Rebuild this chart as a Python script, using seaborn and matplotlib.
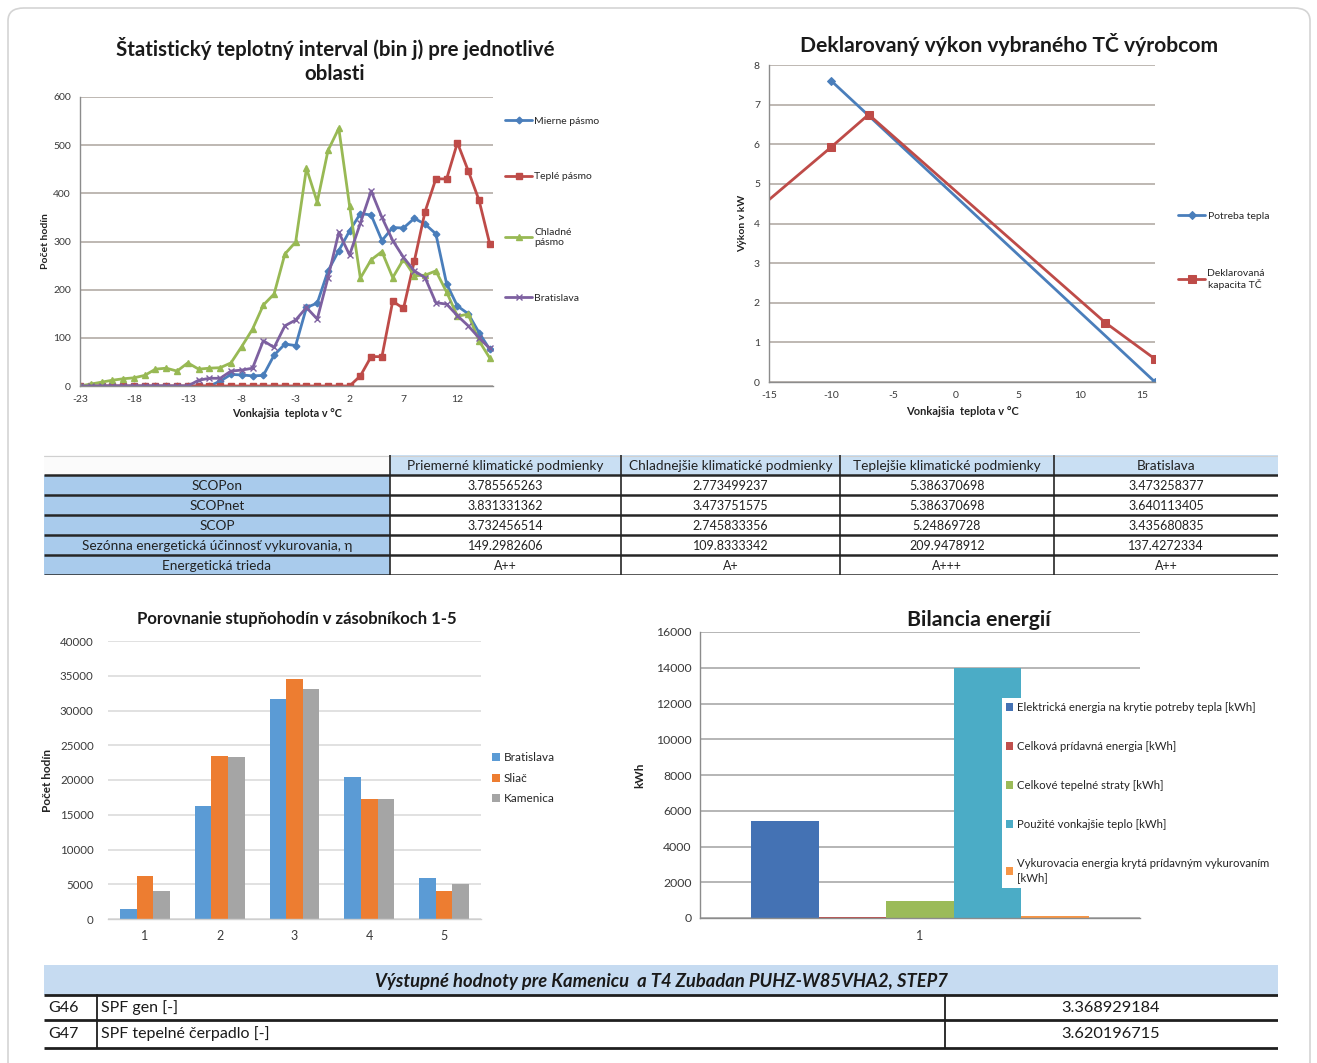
import matplotlib
matplotlib.use("Agg")
import matplotlib.pyplot as plt
import pandas as pd
import seaborn as sns
from matplotlib.patches import FancyBboxPatch, Rectangle

# ---------------- data ----------------
# Temperature bins (°C) and hours per bin for each climate zone
bin_temps = [-23, -22, -21, -20, -19, -18, -17, -16, -15, -14, -13, -12, -11,
             -10, -9, -8, -7, -6, -5, -4, -3, -2, -1, 0, 1, 2, 3, 4, 5, 6, 7,
             8, 9, 10, 11, 12, 13, 14, 15]
mierne_pasmo = [0, 0, 0, 0, 0, 0, 0, 0, 0, 0, 0, 0, 0,
                10, 24, 23, 21, 22, 64, 87, 84, 163, 172, 239, 281, 322, 358,
                355, 302, 329, 328, 348, 336, 316, 212, 166, 150, 111, 76]
teple_pasmo = [0, 0, 0, 0, 0, 0, 0, 0, 0, 0, 0, 0, 0, 0, 0, 0, 0, 0, 0, 0,
               0, 0, 0, 0, 0, 0, 21, 61, 61, 176, 161, 259, 362, 430, 430,
               505, 447, 386, 295]
chladne_pasmo = [0, 4, 8, 12, 15, 17, 22, 35, 37, 31, 48, 35, 37, 38, 48, 82,
                 118, 168, 191, 274, 299, 452, 382, 489, 535, 374, 224, 262,
                 279, 225, 263, 229, 230, 239, 195, 145, 149, 94, 58]
bratislava_bins = [0, 0, 0, 0, 0, 0, 0, 0, 0, 0, 0, 12, 16, 16, 31, 33, 37,
                   94, 80, 125, 137, 163, 139, 225, 319, 272, 338, 405, 350,
                   302, 267, 239, 225, 173, 170, 146, 125, 100, 78]

# Heat demand and declared heat-pump capacity (kW)
demand_temps = [-10, 16]
demand_kw = [7.6, 0.0]
capacity_temps = [-15, -10, -7, 12, 16]
capacity_kw = [4.6, 5.93, 6.75, 1.5, 0.58]

# Degree-hours in storage bins 1-5
storage_bins = ["1", "2", "3", "4", "5"]
sites = ["Bratislava", "Sliač", "Kamenica"]
hours_bratislava = [1400, 16200, 31700, 20400, 5900]
hours_sliac = [6200, 23400, 34500, 17300, 4100]
hours_kamenica = [4100, 23300, 33100, 17300, 5100]

# Energy balance (kWh)
energy_labels = ["Elektrická energia na krytie potreby tepla [kWh]",
                 "Celková prídavná energia [kWh]",
                 "Celkové tepelné straty [kWh]",
                 "Použité vonkajšie teplo [kWh]",
                 "Vykurovacia energia krytá prídavným vykurovaním\n[kWh]"]
energy_values = [5430, 40, 960, 14000, 110]

# SCOP table
tab_cols = ["Priemerné klimatické podmienky", "Chladnejšie klimatické podmienky",
            "Teplejšie klimatické podmienky", "Bratislava"]
tab_rows = ["SCOPon", "SCOPnet", "SCOP",
            "Sezónna energetická účinnosť vykurovania, η", "Energetická trieda"]
priemerne_vals = ["3.785565263", "3.831331362", "3.732456514", "149.2982606", "A++"]
chladnejsie_vals = ["2.773499237", "3.473751575", "2.745833356", "109.8333342", "A+"]
teplejsie_vals = ["5.386370698", "5.386370698", "5.24869728", "209.9478912", "A+++"]
bratislava_vals = ["3.473258377", "3.640113405", "3.435680835", "137.4272334", "A++"]

# Output table
out_title = "Výstupné hodnoty pre Kamenicu  a T4 Zubadan PUHZ-W85VHA2, STEP7"
out_codes = ["G46", "G47"]
out_names = ["SPF gen [-]", "SPF tepelné čerpadlo [-]"]
out_values = ["3.368929184", "3.620196715"]

# ---------------- styling ----------------
sns.set_style("white")
plt.rcParams["font.family"] = ["Lato", "DejaVu Sans"]
plt.rcParams["axes.unicode_minus"] = False

W, H = 1317, 1063
fig = plt.figure(figsize=(W / 100, H / 100), dpi=100)
fig.patch.set_facecolor("white")


def px_box(left, top, width, height):
    return [left / W, 1 - (top + height) / H, width / W, height / H]


def fx(x):
    return x / W


def fy(y):
    return 1 - y / H


# outer rounded frame
frame = FancyBboxPatch((fx(8), fy(1075)), fx(1302), 1067 / H,
                       boxstyle="round,pad=0,rounding_size=0.012",
                       transform=fig.transFigure, facecolor="white",
                       edgecolor="#d4d4d4", linewidth=1.2, zorder=-5)
fig.patches.append(frame)

TICK_CLR = "#3a3a3a"
GRID_EXCEL = "#b3aca5"


def excel_axes(ax, grid_color=GRID_EXCEL, spine_color="#8c8c8c", fs=7.5):
    for s in ("top", "right"):
        ax.spines[s].set_visible(False)
    for s in ("left", "bottom"):
        ax.spines[s].set_color(spine_color)
        ax.spines[s].set_linewidth(1.0)
    ax.grid(axis="y", color=grid_color, linewidth=1.2)
    ax.grid(axis="x", visible=False)
    ax.set_axisbelow(True)
    ax.tick_params(axis="both", labelsize=fs, colors=spine_color,
                   labelcolor=TICK_CLR, length=3, width=0.8, direction="out")
    ax.set_facecolor("white")


# ---------------- chart 1: temperature bins ----------------
ax1 = fig.add_axes(px_box(80, 97, 413, 289))
series1 = [
    ("Mierne pásmo", mierne_pasmo, "#4a7ebb", "D", 3.4),
    ("Teplé pásmo", teple_pasmo, "#be4b48", "s", 4.8),
    ("Chladné\npásmo", chladne_pasmo, "#98b954", "^", 3.8),
    ("Bratislava", bratislava_bins, "#7d60a0", "x", 3.8),
]
for name, vals, col, mk, ms in series1:
    sns.lineplot(x=bin_temps, y=vals, ax=ax1, color=col, marker=mk,
                 markersize=ms, markeredgecolor=col, markeredgewidth=1.0,
                 linewidth=2.0, label=name, sort=False)
ax1.set_xlim(-23, 15.3)
ax1.set_ylim(0, 600)
ax1.set_yticks(range(0, 601, 100))
ax1.set_xticks(range(-23, 13, 5))
excel_axes(ax1)
ax1.set_xlabel("Vonkajšia  teplota v °C", fontsize=7.8, fontweight="bold",
               labelpad=3, color="#222222")
ax1.set_ylabel("Počet hodín", fontsize=7.5, fontweight="bold", labelpad=2,
               color="#222222")
h1, l1 = ax1.get_legend_handles_labels()
ax1.get_legend().remove()
fig.legend(h1, l1, loc="upper left", bbox_to_anchor=(fx(497), fy(108)),
           frameon=False, fontsize=7.5, labelspacing=4.45, handlelength=2.6,
           handletextpad=0.2, borderpad=0.3)
fig.text(fx(335), fy(60), "Štatistický teplotný interval (bin j) pre jednotlivé\noblasti",
         ha="center", va="center", fontsize=14.8, fontweight="bold",
         linespacing=1.25, color="#1a1a1a")

# ---------------- chart 2: declared output ----------------
ax2 = fig.add_axes(px_box(769, 65, 386, 317))
sns.lineplot(x=demand_temps, y=demand_kw, ax=ax2, color="#4a7ebb", marker="D",
             markersize=3.8, markeredgecolor="#4a7ebb", linewidth=2.0,
             label="Potreba tepla")
sns.lineplot(x=capacity_temps, y=capacity_kw, ax=ax2, color="#be4b48",
             marker="s", markersize=5.2, markeredgecolor="#be4b48",
             linewidth=2.0, label="Deklarovaná\nkapacita TČ",
             markevery=[1, 2, 3, 4])
ax2.set_xlim(-15, 16)
ax2.set_ylim(0, 8)
ax2.set_xticks(range(-15, 16, 5))
ax2.set_yticks(range(0, 9))
excel_axes(ax2)
ax2.set_xlabel("Vonkajšia  teplota v °C", fontsize=8, fontweight="bold",
               labelpad=4, color="#222222")
ax2.set_ylabel("Výkon v kW", fontsize=7.5, fontweight="bold", labelpad=5,
               color="#222222")
h2, l2 = ax2.get_legend_handles_labels()
ax2.get_legend().remove()
fig.legend(h2, l2, loc="upper left", bbox_to_anchor=(fx(1170), fy(203)),
           frameon=False, fontsize=7.5, labelspacing=4.6, handlelength=2.6,
           handletextpad=0.2, borderpad=0.3)
fig.text(fx(1009), fy(45), "Deklarovaný výkon vybraného TČ výrobcom",
         ha="center", va="center", fontsize=15.2, fontweight="bold",
         color="#1a1a1a")

# ---------------- SCOP table ----------------
tx = fig.add_axes(px_box(44, 455, 1234, 120))
tx.set_xlim(0, 1234)
tx.set_ylim(120, 0)
tx.axis("off")
col_edges = [0, 346, 577, 796, 1010, 1234]
row_h = 20
HEAD_BLUE = "#c9dff3"
ROW_BLUE = "#a9cbec"
tx.add_patch(Rectangle((0, 0), 346, row_h, facecolor="#fbfbfb", edgecolor="none"))
for j in range(4):
    tx.add_patch(Rectangle((col_edges[j + 1], 0), col_edges[j + 2] - col_edges[j + 1],
                           row_h, facecolor=HEAD_BLUE, edgecolor="none"))
    tx.text((col_edges[j + 1] + col_edges[j + 2]) / 2, row_h / 2 + 0.5, tab_cols[j],
            ha="center", va="center", fontsize=9.8, color="#222222")
columns_vals = [priemerne_vals, chladnejsie_vals, teplejsie_vals, bratislava_vals]
for i, rname in enumerate(tab_rows):
    y0 = row_h * (i + 1)
    tx.add_patch(Rectangle((0, y0), 346, row_h, facecolor=ROW_BLUE, edgecolor="none"))
    tx.text(173, y0 + row_h / 2 + 0.5, rname, ha="center", va="center",
            fontsize=9.8, color="#222222")
    for j, cv in enumerate(columns_vals):
        tx.text((col_edges[j + 1] + col_edges[j + 2]) / 2, y0 + row_h / 2 + 0.5,
                cv[i], ha="center", va="center", fontsize=9, color="#222222")
for k in range(1, 7):
    tx.plot([0, 1234], [row_h * k, row_h * k], color="#262626", lw=1.8,
            solid_capstyle="butt")
tx.plot([0, 1234], [0.5, 0.5], color="#d0d0d0", lw=0.8)
for xe in col_edges[1:-1]:
    tx.plot([xe, xe], [0, 120], color="#262626", lw=1.2)

# ---------------- chart 3: degree-hours ----------------
df3 = pd.DataFrame({
    "bin": storage_bins * 3,
    "hours": hours_bratislava + hours_sliac + hours_kamenica,
    "site": [sites[0]] * 5 + [sites[1]] * 5 + [sites[2]] * 5,
})
ax3 = fig.add_axes(px_box(107.6, 641, 373.8, 278))
sns.barplot(data=df3, x="bin", y="hours", hue="site", hue_order=sites,
            palette=["#5b9bd5", "#ed7d31", "#a5a5a5"], width=0.667,
            saturation=1, linewidth=0, ax=ax3)
ax3.set_ylim(0, 40000)
ax3.set_yticks(range(0, 40001, 5000))
excel_axes(ax3, grid_color="#dcdcdc", spine_color="#cfcfcf", fs=8.3)
ax3.spines["left"].set_visible(False)
ax3.tick_params(axis="y", length=0, pad=10)
ax3.tick_params(axis="x", length=0, labelsize=9, pad=8)
ax3.set_xlabel("")
ax3.set_ylabel("Počet hodín", fontsize=8.5, fontweight="bold", labelpad=5,
               color="#222222")
h3, l3 = ax3.get_legend_handles_labels()
ax3.get_legend().remove()
fig.legend(h3, l3, loc="upper left", bbox_to_anchor=(fx(483), fy(743)),
           frameon=False, fontsize=8.5, labelspacing=0.8, handlelength=0.65,
           handleheight=0.65, handletextpad=0.3, borderpad=0.3)
fig.text(fx(297), fy(619), "Porovnanie stupňohodín v zásobníkoch 1-5",
         ha="center", va="center", fontsize=12, fontweight="bold",
         color="#1a1a1a")

# ---------------- chart 4: energy balance ----------------
df4 = pd.DataFrame({
    "group": ["1"] * len(energy_labels),
    "kWh": energy_values,
    "component": energy_labels,
})
ax4 = fig.add_axes(px_box(700, 632, 440, 286))
sns.barplot(data=df4, x="group", y="kWh", hue="component",
            hue_order=energy_labels,
            palette=["#4472b4", "#c0504d", "#9bbb59", "#4bacc6", "#f79646"],
            width=0.768, saturation=1, linewidth=0, ax=ax4)
ax4.set_ylim(0, 16000)
ax4.set_yticks(range(0, 16001, 2000))
excel_axes(ax4, grid_color="#a9a9a9", spine_color="#8c8c8c", fs=8.8)
ax4.tick_params(axis="y", length=3, pad=3)
ax4.tick_params(axis="x", length=0, pad=9, labelsize=9)
ax4.set_xlabel("")
ax4.set_ylabel("kWh", fontsize=8.5, fontweight="bold", labelpad=8,
               color="#222222")
h4, l4 = ax4.get_legend_handles_labels()
ax4.get_legend().remove()
leg4 = fig.legend(h4, l4, loc="upper left", bbox_to_anchor=(fx(996), fy(692)),
                  frameon=True, facecolor="white", edgecolor="none",
                  framealpha=1, fancybox=False, fontsize=8.2,
                  labelspacing=2.45, handlelength=0.55, handleheight=0.65,
                  handletextpad=0.4, borderpad=0.4)
for t in leg4.get_texts():
    t.set_linespacing(1.35)
fig.text(fx(979), fy(620), "Bilancia energií", ha="center", va="center",
         fontsize=15.3, fontweight="bold", color="#1a1a1a")

# ---------------- output table ----------------
ox = fig.add_axes(px_box(44, 965, 1234, 85))
ox.set_xlim(0, 1234)
ox.set_ylim(85, 0)
ox.axis("off")
ox.add_patch(Rectangle((0, 0), 1234, 30, facecolor="#c6dbf1", edgecolor="none"))
ox.text(617, 16, out_title, ha="center", va="center", fontsize=13.2,
        fontweight="bold", fontstyle="italic", color="#1a1a1a")
row_tops = [30, 55]
row_bottoms = [55, 83]
for k in range(2):
    yc = (row_tops[k] + row_bottoms[k]) / 2
    ox.text(4, yc, out_codes[k], ha="left", va="center", fontsize=11.5, color="#1a1a1a")
    ox.text(57, yc, out_names[k], ha="left", va="center", fontsize=11.5, color="#1a1a1a")
    ox.text(1067, yc, out_values[k], ha="center", va="center", fontsize=11.8,
            color="#1a1a1a")
for yb in [30, 55, 83]:
    ox.plot([0, 1234], [yb, yb], color="#1f1f1f", lw=2.0, solid_capstyle="butt")
for xe in [53, 901]:
    ox.plot([xe, xe], [30, 83], color="#1f1f1f", lw=1.3)

fig.savefig("out.png", dpi=100)
